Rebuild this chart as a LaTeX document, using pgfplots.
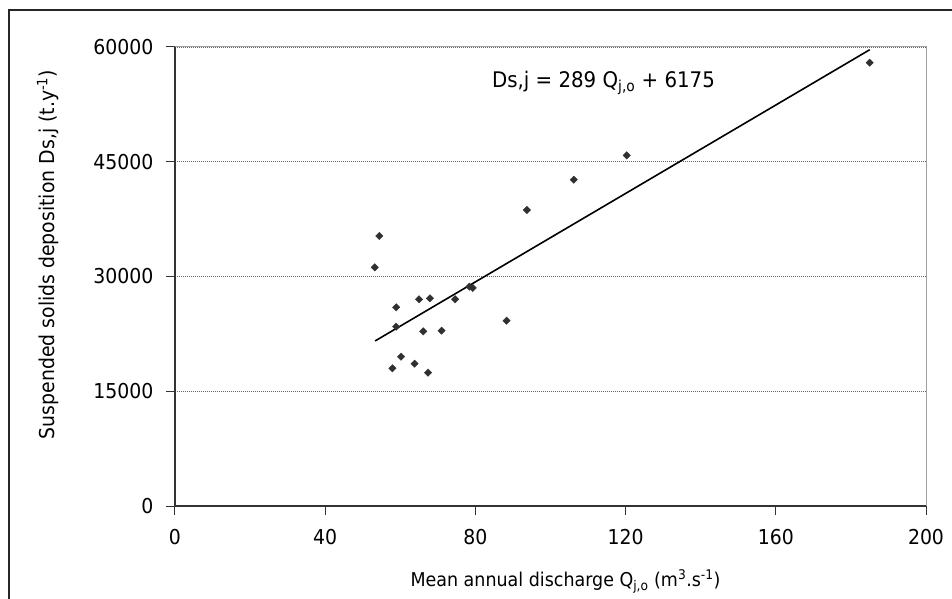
\documentclass[border=0pt]{standalone}
\usepackage{fontspec}
\setmainfont{DejaVu Sans}[FakeStretch=0.92]
\usepackage{pgfplots}
\pgfplotsset{compat=1.18}

\definecolor{markgray}{HTML}{303030}
\definecolor{boxgray}{HTML}{A0A0A0}

\begin{document}
\begin{tikzpicture}
\path[use as bounding box] (-175pt,-92pt) rectangle (777pt,506pt);
% outer frame (only left and top edges are visible)
\draw[line width=2pt, black!85] (-166pt,-120pt) -- (-166pt,496pt) -- (800pt,496pt);
\begin{axis}[
    at={(0,0)}, anchor=south west,
    scale only axis,
    width=751pt, height=459pt,
    xmin=0, xmax=200, ymin=0, ymax=60000,
    axis lines*=left,
    axis line style={-, line width=1.3pt, black!80},
    xtick={0,40,...,200},
    ytick={0,15000,...,60000},
    tick align=outside,
    major tick length=9pt,
    tick style={line width=1pt, black!80},
    xticklabel shift=11pt,
    yticklabel shift=9pt,
    scaled ticks=false,
    /pgf/number format/.cd, 1000 sep={}, assume math mode=true,
    /pgfplots/.cd,
    ymajorgrids,
    major grid style={black!60, line width=0.8pt, dash pattern=on 1pt off 1pt},
    tick label style={font=\fontsize{20.5}{24}\selectfont},
    xlabel style={font=\fontsize{19}{22}\selectfont, at={(rel axis cs:0.52,-0.1743)}, anchor=base},
    ylabel style={font=\fontsize{20.5}{24}\selectfont, at={(rel axis cs:-0.1598,0.548)}, anchor=base},
    xlabel={Mean annual discharge Q\textsubscript{j,o} (m\textsuperscript{3}.s\textsuperscript{-1})},
    ylabel={Suspended solids deposition Ds,j (t.y\textsuperscript{-1})},
    clip=false,
]
% plot area border (top and right)
\draw[boxgray, line width=1pt] (rel axis cs:0,1) -- (rel axis cs:1,1) -- (rel axis cs:1,0);

% observed data
\addplot[only marks, mark=square*, mark size=2.6pt, mark options={rotate=45}, color=markgray]
coordinates {
(53.2,31200) (54.4,35300) (57.9,18000) (58.9,25970) (58.9,23440)
(60.2,19520) (63.8,18600) (65.0,27020) (66.1,22830) (67.4,17430)
(67.9,27150) (71.0,22920) (74.6,27020) (78.4,28670) (79.3,28500)
(88.3,24230) (93.7,38690) (106.2,42650) (120.3,45840) (185.0,57950)
};

% regression line Ds,j = 289 Q + 6175
\addplot[black, line width=1.6pt] coordinates {(53.3,21579) (185.0,59640)};

\node[anchor=west, font=\fontsize{21.5}{24}\selectfont] at (axis cs:83.5,55300)
  {Ds,j = 289 Q\textsubscript{j,o} + 6175};
\end{axis}
\end{tikzpicture}
\end{document}
